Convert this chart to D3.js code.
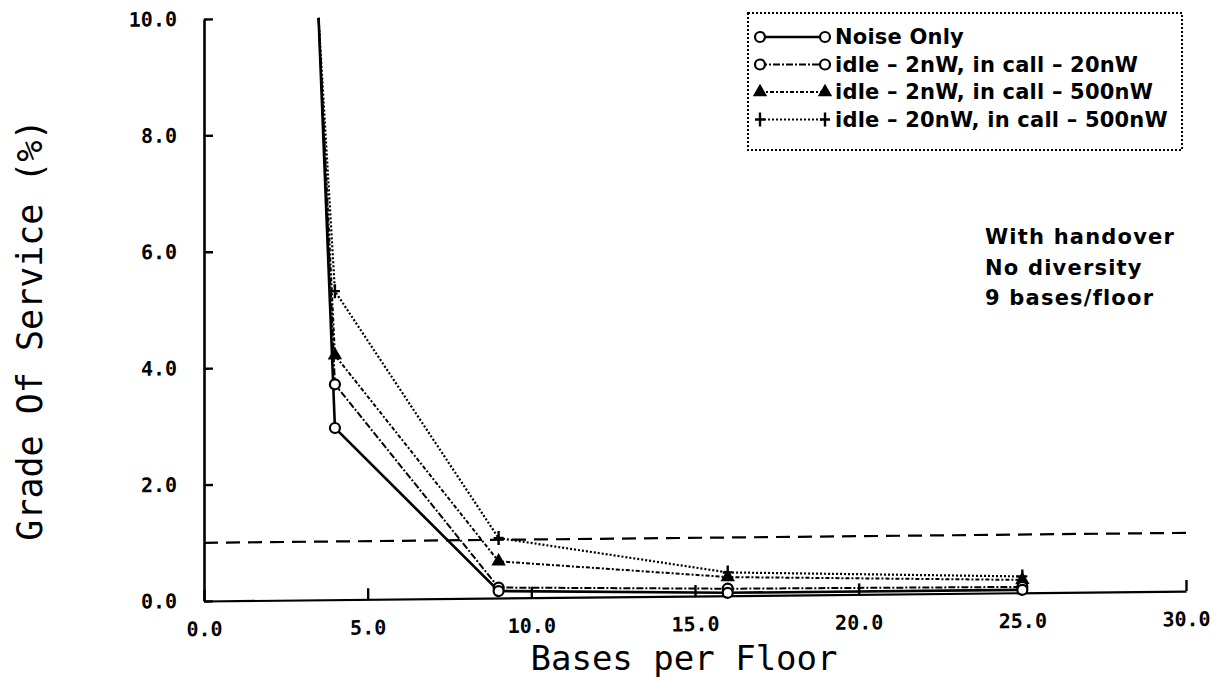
<!DOCTYPE html>
<html><head><meta charset="utf-8">
<script src="https://cdn.jsdelivr.net/npm/d3@7"></script>
<style>body{margin:0;background:#fff}</style>
</head><body>
<svg id="chart" width="1225" height="681"></svg>
<script>
// ---- data ----
const basesPerFloor = [3.5, 4, 9, 16, 25];
const noiseOnly   = [10.0, 2.95, 0.12, 0.05, 0.05];
const idle2In20   = [10.0, 3.70, 0.18, 0.12, 0.10];
const idle2In500  = [10.0, 4.20, 0.63, 0.32, 0.22];
const idle20In500 = [10.0, 5.30, 1.03, 0.40, 0.28];
const gosThreshold = [1.0, 1.0];
const thresholdX = [0, 30];
const xTickValues = [0, 5, 10, 15, 20, 25, 30];
const yTickValues = [0, 2, 4, 6, 8, 10];
const seriesNames = ["Noise Only", "idle – 2nW, in call – 20nW", "idle – 2nW, in call – 500nW", "idle – 20nW, in call – 500nW"];
const notes = ["With handover", "No diversity", "9 bases/floor"];
const xTitle = "Bases per Floor";
const yTitle = "Grade Of Service (%)";

const seriesValues = [noiseOnly, idle2In20, idle2In500, idle20In500];
const styles = [
  {dash: null, width: 2.6, marker: "circle"},
  {dash: "7,2,2,2", width: 2, marker: "circle"},
  {dash: "4,2,2,2", width: 2, marker: "triangle"},
  {dash: "2,2", width: 2.2, marker: "plus"}
];

const svg = d3.select("#chart");
const x = d3.scaleLinear().domain([0, 30]).range([204, 1186]);
const y = d3.scaleLinear().domain([0, 10]).range([601, 19]);
const x0 = x(0), y0 = y(0);

const plot = svg.append("g")
  .attr("transform", `translate(${x0},${y0}) skewY(-0.58) translate(${-x0},${-y0})`);

// axes
const xAxis = plot.append("g").attr("transform", `translate(0,${y0})`)
  .call(d3.axisBottom(x).tickValues(xTickValues).tickFormat(d3.format(".1f"))
    .tickSizeInner(-11).tickSizeOuter(0).tickPadding(21));
const yAxis = plot.append("g").attr("transform", `translate(${x0},0)`)
  .call(d3.axisLeft(y).tickValues(yTickValues).tickFormat(d3.format(".1f"))
    .tickSizeInner(-9).tickSizeOuter(0).tickPadding(27));
[xAxis, yAxis].forEach(a => {
  a.select(".domain").attr("stroke", "#000").attr("stroke-width", 2.6);
  a.selectAll(".tick line").attr("stroke", "#000").attr("stroke-width", 2.4);
  a.selectAll(".tick text").attr("fill", "#000")
    .attr("font-family", "DejaVu Sans Mono").attr("font-weight", "bold").attr("font-size", 20);
});
xAxis.select(".domain").attr("stroke-width", 2.2);

// threshold dashed line
plot.append("path")
  .datum(thresholdX.map((v, i) => [v, gosThreshold[i]]))
  .attr("d", d3.line().x(d => x(d[0])).y(d => y(d[1])))
  .attr("fill", "none").attr("stroke", "#000").attr("stroke-width", 2.2)
  .attr("stroke-dasharray", "14,8");

// series lines
const line = d3.line().x(d => x(d[0])).y(d => y(d[1]));
function drawMarker(g, type, cx, cy) {
  if (type === "circle") {
    g.append("circle").attr("cx", cx).attr("cy", cy).attr("r", 5)
      .attr("fill", "#fff").attr("stroke", "#000").attr("stroke-width", 2.2);
  } else if (type === "triangle") {
    g.append("path").attr("d", d3.symbol(d3.symbolTriangle, 90)())
      .attr("transform", `translate(${cx},${cy})`).attr("fill", "#000");
  } else {
    g.append("path").attr("d", "M-5,0H5M0,-7V7")
      .attr("transform", `translate(${cx},${cy})`)
      .attr("stroke", "#000").attr("stroke-width", 2.4).attr("fill", "none");
  }
}
seriesValues.forEach((vals, s) => {
  const pts = basesPerFloor.map((b, i) => [b, vals[i]]);
  plot.append("path").datum(pts).attr("d", line)
    .attr("fill", "none").attr("stroke", "#000")
    .attr("stroke-width", styles[s].width)
    .attr("stroke-dasharray", styles[s].dash);
});
// markers drawn on top (skip the off-scale first point)
[3, 2, 1, 0].forEach(s => {
  const mg = plot.append("g");
  basesPerFloor.forEach((b, i) => {
    if (i === 0) return;
    drawMarker(mg, styles[s].marker, x(b), y(seriesValues[s][i]));
  });
});

// titles
svg.append("text").attr("x", 684).attr("y", 670).attr("text-anchor", "middle")
  .attr("font-family", "DejaVu Sans Mono").attr("font-size", 34).text(xTitle);
svg.append("text").attr("transform", "translate(42,330) rotate(-90)").attr("text-anchor", "middle")
  .attr("font-family", "DejaVu Sans Mono").attr("font-size", 35).text(yTitle);

// legend
const lg = svg.append("g");
lg.append("rect").attr("x", 748).attr("y", 13).attr("width", 434).attr("height", 137)
  .attr("fill", "none").attr("stroke", "#000").attr("stroke-width", 2).attr("stroke-dasharray", "2,2");
seriesNames.forEach((name, s) => {
  const cy = 37 + s * 27.5;
  lg.append("line").attr("x1", 760).attr("x2", 825).attr("y1", cy).attr("y2", cy)
    .attr("stroke", "#000").attr("stroke-width", styles[s].width).attr("stroke-dasharray", styles[s].dash);
  drawMarker(lg, styles[s].marker, 760, cy);
  drawMarker(lg, styles[s].marker, 825, cy);
  lg.append("text").attr("x", 835).attr("y", cy + 7)
    .attr("font-family", "DejaVu Sans").attr("font-weight", "bold").attr("font-size", 21)
    .attr("letter-spacing", 0.2).text(name);
});

// notes
notes.forEach((t, i) => {
  svg.append("text").attr("x", 985).attr("y", 244 + i * 30.5)
    .attr("font-family", "DejaVu Sans").attr("font-weight", "bold").attr("font-size", 21)
    .attr("letter-spacing", 1.2).text(t);
});
</script>
</body></html>
